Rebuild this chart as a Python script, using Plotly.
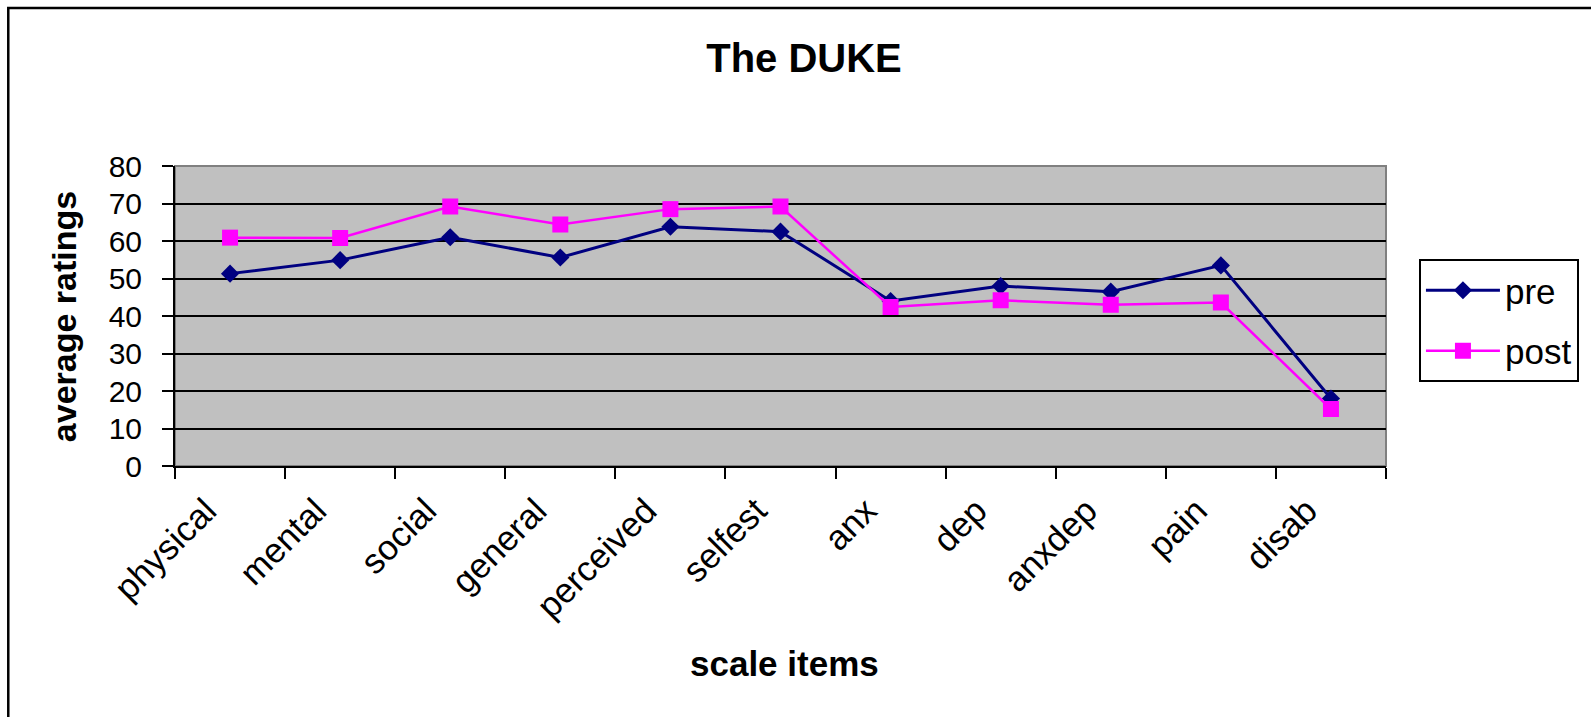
import plotly.graph_objects as go

categories = ["physical", "mental", "social", "general", "perceived", "selfest",
              "anx", "dep", "anxdep", "pain", "disab"]
pre_values = [51.3, 54.9, 61.0, 55.6, 63.8, 62.5, 44.0, 48.0, 46.5, 53.5, 18.0]
post_values = [60.9, 60.8, 69.2, 64.4, 68.5, 69.2, 42.4, 44.2, 43.0, 43.6, 15.2]
y_ticks = [0, 10, 20, 30, 40, 50, 60, 70, 80]

FONT = "Liberation Sans, Arial, sans-serif"
W, H = 1591, 717
L, R, T, B = 175, 1388, 166, 466
pw, ph = R - L, B - T

def px_x(x):
    return (x - L) / pw

def px_y(y):
    return (B - y) / ph

fig = go.Figure()
fig.add_trace(go.Scatter(
    x=categories, y=pre_values, name="pre", mode="lines+markers",
    legendgroup="pre",
    line=dict(color="#000080", width=3),
    marker=dict(symbol="diamond", size=14, color="#000080"),
))
fig.add_trace(go.Scatter(
    x=categories, y=post_values, name="post", mode="lines+markers",
    legendgroup="post",
    line=dict(color="#FF00FF", width=2.5),
    marker=dict(symbol="square", size=16, color="#FF00FF"),
))

fig.update_layout(
    width=W, height=H,
    margin=dict(l=L, r=W - R, t=T, b=H - B, pad=0),
    paper_bgcolor="white",
    plot_bgcolor="#C0C0C0",
    font=dict(family=FONT, size=30, color="black"),
    title=dict(text="<b>The DUKE</b>", x=804 / W, xanchor="center",
               y=1 - 58 / H, yanchor="middle",
               font=dict(family=FONT, size=40, color="black")),
    showlegend=True,
    legend=dict(x=px_x(1421), y=px_y(259), xanchor="left", yanchor="top",
                bgcolor="white", bordercolor="black", borderwidth=2,
                tracegroupgap=12, itemwidth=74,
                font=dict(family=FONT, size=35, color="black")),
    xaxis=dict(type="category", range=[-0.5, len(categories) - 0.5],
               showgrid=False, showline=True,
               linecolor="black", linewidth=2,
               ticks="outside", tickson="boundaries", ticklen=11,
               tickwidth=2, tickcolor="black", tickangle=-45,
               ticklabelstandoff=8, ticklabelshift=-24,
               tickfont=dict(family=FONT, size=35, color="black")),
    yaxis=dict(range=[0, 80], tickvals=y_ticks, showgrid=True,
               gridcolor="black", gridwidth=2.2, zeroline=False,
               showline=True, linecolor="black", linewidth=2,
               ticks="outside", ticklen=11, tickwidth=2, tickcolor="black",
               ticklabelstandoff=14,
               tickfont=dict(family=FONT, size=30, color="black")),
    shapes=[
        dict(type="rect", xref="paper", yref="paper", x0=0, x1=1, y0=0, y1=1,
             line=dict(color="#808080", width=2), layer="below"),
        dict(type="rect", xref="paper", yref="paper",
             x0=px_x(8), x1=px_x(W + 20), y0=px_y(H + 20), y1=px_y(8),
             line=dict(color="black", width=2.5), fillcolor="rgba(0,0,0,0)"),
    ],
    annotations=[
        dict(text="<b>scale items</b>", xref="paper", yref="paper",
             x=px_x(786), y=px_y(663), xanchor="center", yanchor="middle",
             showarrow=False, font=dict(family=FONT, size=35, color="black")),
        dict(text="<b>average ratings</b>", xref="paper", yref="paper",
             x=px_x(64), y=px_y(317), xanchor="center", yanchor="middle",
             textangle=-90, showarrow=False,
             font=dict(family=FONT, size=34, color="black")),
    ],
)

fig.write_html("out.html",
               config={"displayModeBar": False},
               post_script="document.body.style.margin='0';")
